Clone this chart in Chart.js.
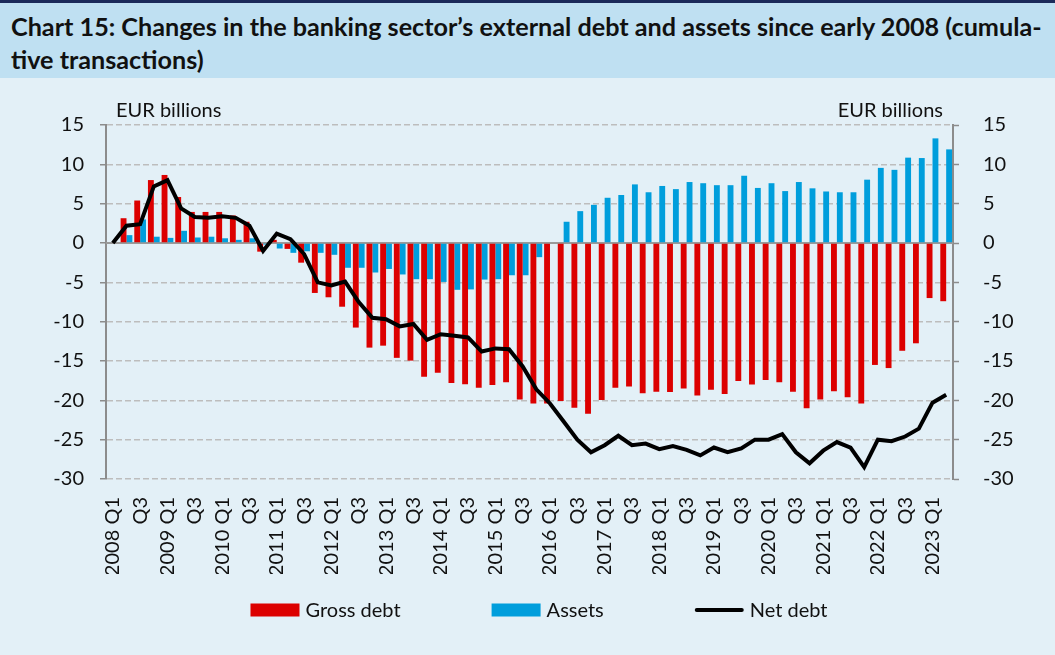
<!DOCTYPE html>
<html lang="en">
<head>
  <meta charset="UTF-8" />
  <title>Chart 15</title>
  <script src="https://cdn.jsdelivr.net/npm/chart.js"></script>
  <style>
    body {
      margin: 0;
      width: 1055px;
      height: 655px;
      overflow: hidden;
      background: #e3f0f7;
      font-family: Lato, sans-serif;
    }
    .title {
      border-top: 3px solid #1b2a5a;
      background: #bfe0f2;
      height: 78px;
      box-sizing: border-box;
      padding: 7px 0 0 11px;
      font-weight: bold;
      font-size: 25.2px;
      line-height: 33px;
      color: #111;
      white-space: nowrap;
    }
    .wrap {
      position: relative;
      width: 1055px;
      height: 577px;
    }
  </style>
</head>
<body>
  <div class="title">Chart 15: Changes in the banking sector’s external debt and assets since early 2008 (cumula-<br>tive transactions)</div>
  <div class="wrap"><canvas id="chart"></canvas></div>

  <script>
    const quarters = [
      '2008 Q1','Q2','Q3','Q4','2009 Q1','Q2','Q3','Q4','2010 Q1','Q2','Q3','Q4',
      '2011 Q1','Q2','Q3','Q4','2012 Q1','Q2','Q3','Q4','2013 Q1','Q2','Q3','Q4',
      '2014 Q1','Q2','Q3','Q4','2015 Q1','Q2','Q3','Q4','2016 Q1','Q2','Q3','Q4',
      '2017 Q1','Q2','Q3','Q4','2018 Q1','Q2','Q3','Q4','2019 Q1','Q2','Q3','Q4',
      '2020 Q1','Q2','Q3','Q4','2021 Q1','Q2','Q3','Q4','2022 Q1','Q2','Q3','Q4',
      '2023 Q1','Q2'
    ];

    const grossDebt = [
      0, 3.15, 5.4, 8.0, 8.65, 5.85, 3.95, 3.95, 3.95, 3.5, 2.7, -1.1,
      0.4, -0.75, -2.5, -6.35, -6.9, -8.1, -10.75, -13.3, -13.05, -14.6, -14.95, -17.0,
      -16.5, -17.8, -17.95, -18.4, -18.05, -17.7, -19.9, -20.4, -20.4, -20.1, -20.95, -21.7,
      -19.95, -18.4, -18.25, -19.1, -18.9, -18.95, -18.5, -19.4, -18.65, -19.2, -17.55, -18.0,
      -17.4, -17.7, -18.9, -21.0, -19.9, -18.85, -19.6, -20.4, -15.5, -15.9, -13.7, -12.75,
      -7.0, -7.4
    ];

    const assets = [
      0, 1.0, 3.0, 0.8, 0.65, 1.55, 0.7, 0.8, 0.6, 0.4, 0.6, -0.2,
      -0.7, -1.25, -1.05, -1.25, -1.5, -3.15, -3.15, -3.75, -3.3, -4.0, -4.6, -4.6,
      -4.95, -5.95, -5.9, -4.65, -4.6, -4.1, -4.1, -1.8, 0, 2.7, 4.05, 4.85,
      5.75, 6.1, 7.45, 6.45, 7.25, 6.85, 7.75, 7.6, 7.35, 7.35, 8.55, 7.0,
      7.6, 6.6, 7.75, 6.95, 6.55, 6.45, 6.45, 8.05, 9.55, 9.3, 10.85, 10.8,
      13.3, 11.9
    ];

    const netDebt = [
      0, 2.2, 2.4, 7.2, 8.0, 4.4, 3.3, 3.2, 3.4, 3.2, 2.2, -1.0,
      1.2, 0.5, -1.4, -5.0, -5.4, -4.9, -7.5, -9.5, -9.7, -10.6, -10.3, -12.3,
      -11.6, -11.8, -12.0, -13.8, -13.4, -13.5, -15.7, -18.6, -20.4, -22.7, -25.0, -26.6,
      -25.7, -24.5, -25.7, -25.5, -26.2, -25.8, -26.3, -27.0, -26.0, -26.6, -26.1, -25.0,
      -25.0, -24.3, -26.6, -28.0, -26.4, -25.3, -26.0, -28.5, -25.0, -25.2, -24.6, -23.6,
      -20.3, -19.3
    ];

    const yMin = -30, yMax = 15, yStep = 5;
    const unitLabel = 'EUR billions';

    const RED = '#dc0000';
    const BLUE = '#009edc';
    const GRID = '#bdbdbd';
    const AXIS = '#8c8c8c';
    const FONT = { family: 'Lato', size: 20 };

    const legendItems = [
      { text: 'Gross debt', color: RED, kind: 'box' },
      { text: 'Assets', color: BLUE, kind: 'box' },
      { text: 'Net debt', color: '#000', kind: 'line' }
    ];

    // zero line, unit labels and the legend row
    const extras = {
      id: 'extras',
      beforeDatasetsDraw(chart) {
        const { ctx, chartArea, scales } = chart;
        const y0 = scales.y.getPixelForValue(0);
        ctx.save();
        ctx.strokeStyle = '#9a9a9a';
        ctx.lineWidth = 2;
        ctx.beginPath();
        ctx.moveTo(chartArea.left, y0);
        ctx.lineTo(chartArea.right, y0);
        ctx.stroke();
        ctx.restore();
      },
      afterDraw(chart) {
        const { ctx, chartArea } = chart;
        ctx.save();
        ctx.font = '20px Lato';
        ctx.fillStyle = '#111';
        ctx.textBaseline = 'alphabetic';
        ctx.textAlign = 'left';
        ctx.fillText(unitLabel, chartArea.left + 10, chartArea.top - 8);
        ctx.textAlign = 'right';
        ctx.fillText(unitLabel, chartArea.right - 10, chartArea.top - 8);

        // legend
        const boxW = 49, boxH = 13, gap = 6, spacing = 91;
        let total = 0;
        legendItems.forEach((it, i) => {
          total += boxW + gap + ctx.measureText(it.text).width + (i ? spacing : 0);
        });
        let x = 539 - total / 2;
        const yMid = chart.height - 45;
        ctx.textAlign = 'left';
        ctx.textBaseline = 'middle';
        legendItems.forEach(it => {
          if (it.kind === 'box') {
            ctx.fillStyle = it.color;
            ctx.fillRect(x, yMid - boxH / 2, boxW, boxH);
          } else {
            ctx.strokeStyle = it.color;
            ctx.lineWidth = 4;
            ctx.lineCap = 'round';
            ctx.beginPath();
            ctx.moveTo(x + 2, yMid);
            ctx.lineTo(x + boxW - 2, yMid);
            ctx.stroke();
          }
          x += boxW + gap;
          ctx.fillStyle = '#111';
          ctx.fillText(it.text, x, yMid + 1);
          x += ctx.measureText(it.text).width + spacing;
        });
        ctx.restore();
      }
    };

    new Chart(document.getElementById('chart'), {
      data: {
        labels: quarters,
        datasets: [
          {
            type: 'line',
            label: 'Net debt',
            data: netDebt,
            borderColor: '#000',
            borderWidth: 4,
            pointRadius: 0,
            tension: 0,
            order: 0
          },
          {
            type: 'bar',
            label: 'Gross debt',
            data: grossDebt,
            backgroundColor: RED,
            order: 1
          },
          {
            type: 'bar',
            label: 'Assets',
            data: assets,
            backgroundColor: BLUE,
            order: 1
          }
        ]
      },
      options: {
        responsive: true,
        maintainAspectRatio: false,
        animation: false,
        datasets: {
          bar: { barPercentage: 1, categoryPercentage: 0.86 }
        },
        layout: { padding: { top: 47, left: 24, right: 0, bottom: 81 } },
        plugins: {
          tooltip: { enabled: false },
          legend: { display: false }
        },
        scales: {
          x: {
            grid: { display: false, drawTicks: false },
            border: { display: false },
            ticks: {
              font: FONT,
              color: '#111',
              autoSkip: false,
              minRotation: 90,
              maxRotation: 90,
              padding: 18,
              callback(v, i) { return i % 2 === 0 ? quarters[i] : ''; }
            },
            afterFit(s) { s.height = 95; }
          },
          y: {
            position: 'left',
            min: yMin,
            max: yMax,
            grid: { color: GRID, lineWidth: 1.5, tickLength: 6, tickColor: AXIS, tickWidth: 1.5 },
            border: { color: AXIS, width: 2, dash: [6, 3] },
            ticks: { stepSize: yStep, font: FONT, color: '#111', padding: 16 },
            afterFit(s) { s.width = 82; }
          },
          y2: {
            position: 'right',
            min: yMin,
            max: yMax,
            grid: { drawOnChartArea: false, tickLength: 6, tickColor: AXIS, tickWidth: 1.5 },
            border: { color: AXIS, width: 2 },
            ticks: { stepSize: yStep, font: FONT, color: '#111', padding: 24 },
            afterFit(s) { s.width = 102; }
          }
        }
      },
      plugins: [extras]
    });
  </script>
</body>
</html>
